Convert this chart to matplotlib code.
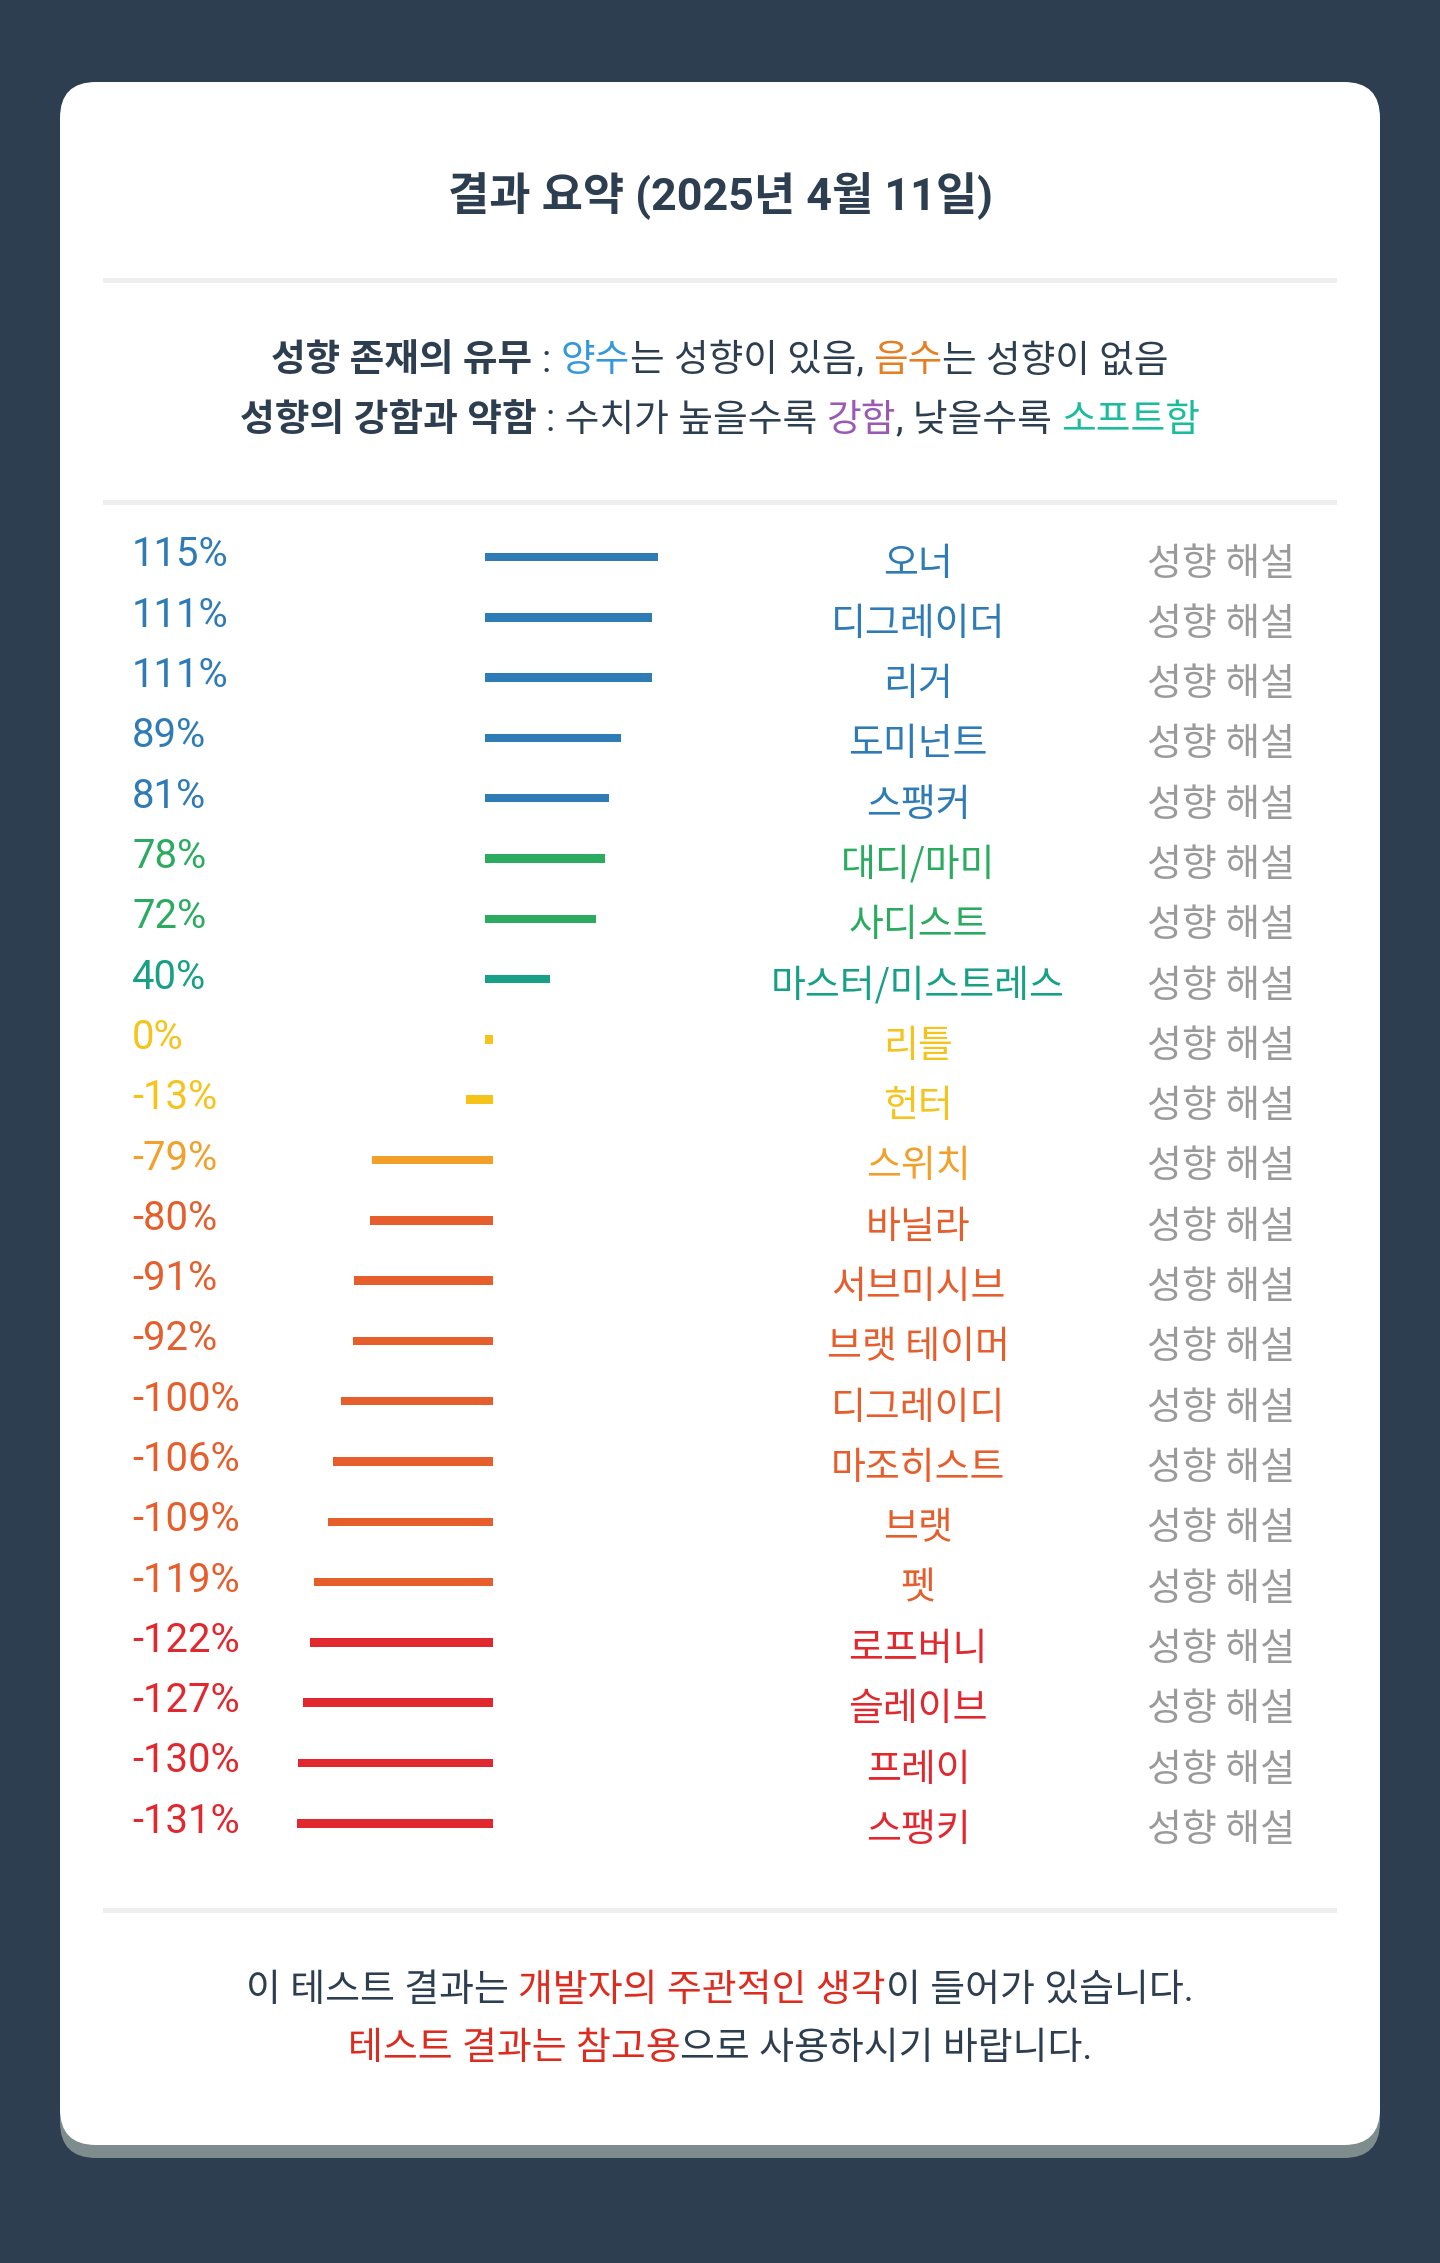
import matplotlib
matplotlib.use('Agg')
import matplotlib.pyplot as plt
from matplotlib.patches import FancyBboxPatch, Rectangle

W, H = 1440, 2263
FONT = ['Roboto', 'Noto Sans CJK KR', 'DejaVu Sans']
KFONT = ['Noto Sans CJK KR', 'DejaVu Sans']

# data
names = ['오너', '디그레이더', '리거', '도미넌트', '스팽커', '대디/마미', '사디스트',
         '마스터/미스트레스', '리틀', '헌터', '스위치', '바닐라', '서브미시브', '브랫 테이머',
         '디그레이디', '마조히스트', '브랫', '펫', '로프버니', '슬레이브', '프레이', '스팽키']
values = [115, 111, 111, 89, 81, 78, 72, 40, 0, -13, -79, -80, -91, -92,
          -100, -106, -109, -119, -122, -127, -130, -131]
link_text = '성향 해설'

# style
BLUE, GREEN, TEAL = '#2e7bb6', '#2aab60', '#17a085'
YELLOW, ORANGE, ORED, RED = '#f5c31a', '#f2a02a', '#e65e2c', '#e0282e'
row_colors = [BLUE] * 5 + [GREEN] * 2 + [TEAL] + [YELLOW] * 2 + [ORANGE] + [ORED] * 7 + [RED] * 4
DARK = '#2c3e50'

ROW0, STEP = 557, 60.3
ZERO_PX, PX_PER_PCT = 489, 1.436
BASE = 4 / PX_PER_PCT

fig = plt.figure(figsize=(W / 100, H / 100), dpi=100)
fig.patch.set_facecolor('#2c3e50')
ax = fig.add_axes([0, 0, 1, 1])
ax.set_xlim(0, W)
ax.set_ylim(H, 0)
ax.axis('off')

# card + shadow
ax.add_patch(FancyBboxPatch((60, 95), 1320, 2063, boxstyle='round,pad=0,rounding_size=36',
                            fc='#7f8c8d', ec='none', zorder=1))
ax.add_patch(FancyBboxPatch((60, 82), 1320, 2063, boxstyle='round,pad=0,rounding_size=36',
                            fc='white', ec='none', zorder=2))
for yy in [280, 502, 1910]:
    ax.add_patch(Rectangle((103, yy - 2.5), 1234, 5, fc='#eeeeee', ec='none', zorder=3))

renderer = fig.canvas.get_renderer()


def text_w(s, size, weight):
    t = ax.text(0, 0, s, fontsize=size, fontweight=weight, family=FONT)
    w = t.get_window_extent(renderer=renderer).width
    t.remove()
    return w


def rich_line(y, parts, size, cx=W / 2):
    sp = text_w('a a', size, 'normal') - text_w('aa', size, 'normal')
    items = []
    total = 0
    for s, c, wt in parts:
        lead = len(s) - len(s.lstrip(' '))
        trail = len(s) - len(s.rstrip(' '))
        core = s.strip(' ')
        t = ax.text(0, y, core, color=c, fontsize=size, fontweight=wt, family=FONT,
                    ha='left', va='center', zorder=5)
        cw = t.get_window_extent(renderer=renderer).width
        items.append((t, lead * sp, cw, trail * sp))
        total += lead * sp + cw + trail * sp
    x = cx - total / 2
    for t, l, cw, tr in items:
        t.set_x(x + l)
        x += l + cw + tr


ax.text(W / 2, 195, '결과 요약 (2025년 4월 11일)', fontsize=32.3, fontweight='bold',
        family=FONT, color=DARK, ha='center', va='center', zorder=5)

rich_line(361, [('성향 존재의 유무', DARK, 'bold'), (' : ', DARK, 'normal'),
                ('양수', '#3498db', 'normal'), ('는 성향이 있음, ', DARK, 'normal'),
                ('음수', '#e67e22', 'normal'), ('는 성향이 없음', DARK, 'normal')], 27.1)
rich_line(421, [('성향의 강함과 약함', DARK, 'bold'), (' : 수치가 높을수록 ', DARK, 'normal'),
                ('강함', '#9b59b6', 'normal'), (', 낮을수록 ', DARK, 'normal'),
                ('소프트함', '#1abc9c', 'normal')], 27.2)

FRED = '#dd2c1f'
rich_line(1991, [('이 테스트 결과는 ', DARK, 'normal'), ('개발자의 주관적인 생각', FRED, 'normal'),
                 ('이 들어가 있습니다.', DARK, 'normal')], 27.3)
rich_line(2049, [('테스트 결과는 참고용', FRED, 'normal'), ('으로 사용하시기 바랍니다.', DARK, 'normal')], 27.3)

# bars in percent units
bax = fig.add_axes([0, 0, 1, 1], zorder=6)
bax.set_xlim(-ZERO_PX / PX_PER_PCT, (W - ZERO_PX) / PX_PER_PCT)
bax.set_ylim((H - ROW0) / STEP, -ROW0 / STEP)
bax.axis('off')
bax.patch.set_alpha(0)
rows = list(range(len(values)))
lefts = [min(v, 0) - BASE for v in values]
widths = [abs(v) + 2 * BASE for v in values]
bax.barh(rows, widths, left=lefts, height=8.5 / STEP, color=row_colors)

for i, (n, v, c) in enumerate(zip(names, values, row_colors)):
    y = ROW0 + i * STEP
    ax.text(132, y - 2, f'{v}%', fontsize=28.8, family=FONT, color=c,
            ha='left', va='center', zorder=5)
    ax.text(918, y + 7, n, fontsize=27.3, family=KFONT, color=c,
            ha='center', va='center', zorder=5)
    ax.text(1221, y + 7, link_text, fontsize=27.3, family=KFONT, color='#9a9a9a',
            ha='center', va='center', zorder=5)

fig.savefig('out.png', dpi=100, facecolor=fig.get_facecolor())
